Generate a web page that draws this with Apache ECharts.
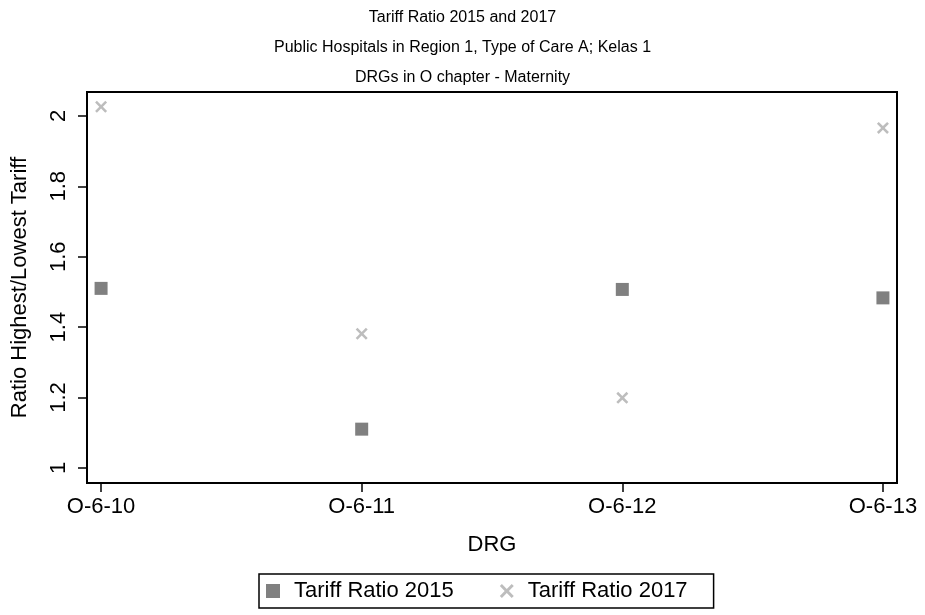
<!DOCTYPE html>
<html>
<head>
<meta charset="utf-8">
<script src="https://cdn.jsdelivr.net/npm/echarts@6/dist/echarts.min.js"></script>
<style>
  html, body { margin: 0; padding: 0; background: #fff; }
  #main { width: 925px; height: 615px; }
</style>
</head>
<body>
<div id="main"></div>
<script>
  // DRG categories on the x axis
  const drgs = ['O-6-10', 'O-6-11', 'O-6-12', 'O-6-13'];
  // ratio highest / lowest tariff
  const ratio2015 = [1.51, 1.11, 1.507, 1.483];
  const ratio2017 = [2.026, 1.381, 1.199, 1.966];
  const yTicks = [1, 1.2, 1.4, 1.6, 1.8, 2];

  const font = 'Liberation Sans, Arial, sans-serif';
  const crossPath = 'path://M1.5,0L5,3.5L8.5,0L10,1.5L6.5,5L10,8.5L8.5,10L5,6.5L1.5,10L0,8.5L3.5,5L0,1.5Z';

  const chart = echarts.init(document.getElementById('main'));
  chart.setOption({
    backgroundColor: '#fff',
    textStyle: {fontFamily: font, color: '#000'},
    title: {
      text: 'Tariff Ratio 2015 and 2017\nPublic Hospitals in Region 1, Type of Care A; Kelas 1\nDRGs in O chapter - Maternity',
      left: 'center',
      top: -2,
      textStyle: {fontFamily: font, fontWeight: 'normal', fontSize: 16, lineHeight: 30, color: '#000'}
    },
    grid: {
      left: 87, right: 28, top: 92, bottom: 132,
      show: true, borderColor: '#000', borderWidth: 2
    },
    legend: {
      bottom: 7,
      left: 259,
      data: ['Tariff Ratio 2015', 'Tariff Ratio 2017'],
      borderColor: '#000',
      borderWidth: 1.5,
      borderRadius: 0,
      padding: [6, 26, 6, 7],
      itemWidth: 14,
      itemHeight: 14,
      itemGap: 46,
      textStyle: {fontFamily: font, fontSize: 22, color: '#000', padding: [0, 0, 0, 9]}
    },
    xAxis: {
      type: 'value',
      min: -0.054,
      max: 3.054,
      name: 'DRG',
      nameLocation: 'middle',
      nameGap: 51,
      nameTextStyle: {fontFamily: font, fontSize: 22, color: '#000'},
      splitLine: {show: false},
      axisLine: {show: false, onZero: false},
      axisTick: {show: true, length: 9, customValues: [0, 1, 2, 3], lineStyle: {color: '#000', width: 1.5}},
      axisLabel: {
        customValues: [0, 1, 2, 3],
        margin: 13,
        fontFamily: font, fontSize: 22, color: '#000',
        formatter: v => drgs[Math.round(v)]
      }
    },
    yAxis: {
      type: 'value',
      min: 0.957,
      max: 2.068,
      name: 'Ratio Highest/Lowest Tariff',
      nameLocation: 'middle',
      nameRotate: 90,
      nameGap: 56,
      nameTextStyle: {fontFamily: font, fontSize: 22, color: '#000'},
      splitLine: {show: false},
      axisLine: {show: false, onZero: false},
      axisTick: {show: true, length: 9, customValues: yTicks, lineStyle: {color: '#000', width: 1.5}},
      axisLabel: {
        customValues: yTicks,
        rotate: 90,
        margin: 17,
        fontFamily: font, fontSize: 22, color: '#000',
        formatter: v => String(+v.toFixed(1))
      }
    },
    series: [
      {
        name: 'Tariff Ratio 2015',
        type: 'scatter',
        symbol: 'rect',
        symbolSize: 13,
        itemStyle: {color: '#808080', opacity: 1},
        data: ratio2015.map((v, i) => [i, v])
      },
      {
        name: 'Tariff Ratio 2017',
        type: 'scatter',
        symbol: crossPath,
        symbolSize: 12,
        itemStyle: {color: '#bdbdbd', opacity: 1},
        data: ratio2017.map((v, i) => [i, v])
      }
    ]
  });
</script>
</body>
</html>
